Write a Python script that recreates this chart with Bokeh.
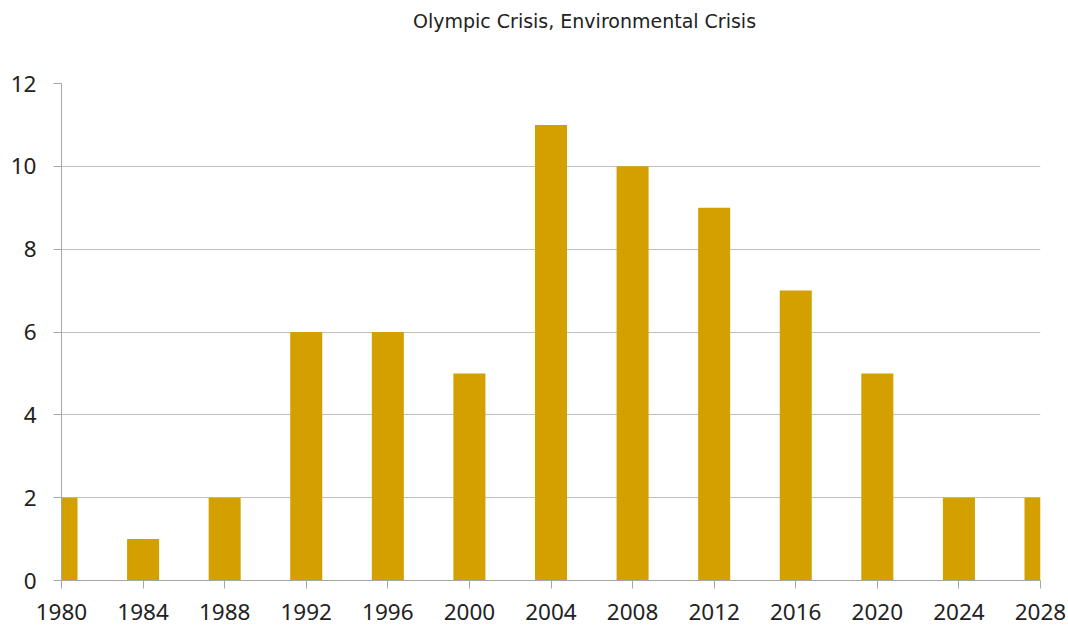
from bokeh.plotting import figure
from bokeh.models import Range1d, FixedTicker, Div
from bokeh.layouts import column
from bokeh.embed import file_html
from bokeh.resources import INLINE

years = [1980, 1984, 1988, 1992, 1996, 2000, 2004, 2008, 2012, 2016, 2020, 2024, 2028]
counts = [2, 1, 2, 6, 6, 5, 11, 10, 9, 7, 5, 2, 2]
y_ticks = [0, 2, 4, 6, 8, 10, 12]
title_text = "Olympic Crisis, Environmental Crisis"

FONT = "Noto Sans"

title = Div(text=title_text, width=1068, height=42, margin=(0, 0, 0, 0),
            styles={"font-family": "DejaVu Sans", "font-size": "19px", "color": "#222222",
                    "line-height": "42px", "padding-left": "413px", "white-space": "nowrap"})

p = figure(width=1068, height=583, output_backend="svg", toolbar_location=None,
           x_range=Range1d(1980, 2028), y_range=Range1d(0, 12),
           min_border_left=61, min_border_right=28, min_border_top=41, min_border_bottom=45,
           margin=(0, 0, 0, 0))
p.outline_line_color = None

p.vbar(x=years, top=counts, width=1.57, bottom=0, fill_color="#D4A000", line_color=None)

for ax in (p.xaxis[0], p.yaxis[0]):
    ax.axis_line_color = "#a6a6a6"
    ax.major_tick_line_color = "#a6a6a6"
    ax.major_tick_out = 8
    ax.major_tick_in = 0
    ax.minor_tick_line_color = None
    ax.major_label_text_font = FONT
    ax.major_label_text_font_size = "22.5px"
    ax.major_label_text_color = "#222222"

p.xaxis.ticker = FixedTicker(ticks=years)
p.yaxis.ticker = FixedTicker(ticks=y_ticks)
p.xaxis.major_label_standoff = 15
p.yaxis.major_label_standoff = 17

p.xgrid.grid_line_color = None
p.ygrid.grid_line_color = "#bfbfbf"
p.ygrid.grid_line_width = 1

layout = column(title, p, spacing=0)
open("out.html", "w").write(file_html(layout, INLINE))
